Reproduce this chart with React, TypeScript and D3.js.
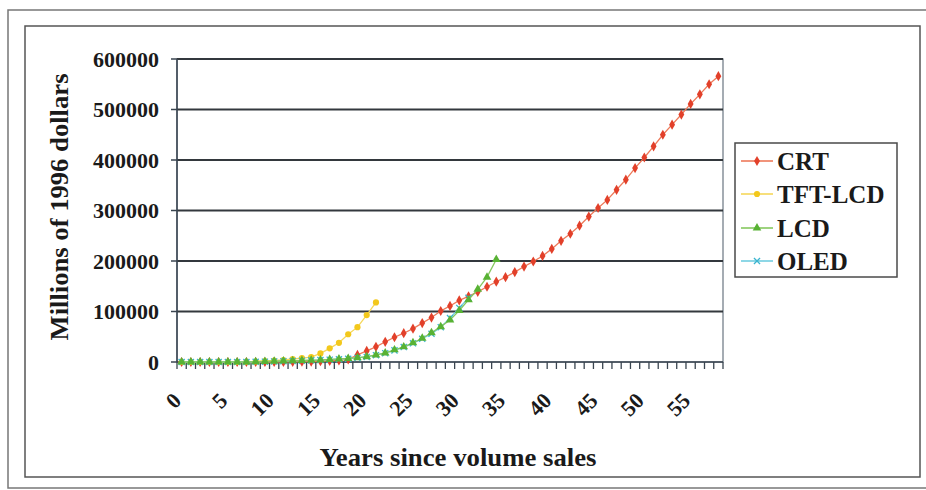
import React, { useEffect, useRef } from "react";
import * as d3 from "d3";

// Years since volume sales (category axis)
const years: number[] = Array.from({ length: 59 }, (_, i) => i);
const xTickLabels: number[] = [0, 5, 10, 15, 20, 25, 30, 35, 40, 45, 50, 55];
const yTicks: number[] = [0, 100000, 200000, 300000, 400000, 500000, 600000];

// Millions of 1996 dollars, one value per year
const crt: number[] = [
  0, 0, 0, 0, 0, 0, 0, 0, 0, 0, 0, 200, 400, 600, 900, 1500, 2200, 3200, 5000,
  14000, 22000, 30000, 40000, 49000, 57000, 66000, 77000, 88000, 101000, 111000,
  122000, 130000, 139000, 149000, 159000, 168000, 178000, 189000, 199000, 210000,
  224000, 240000, 254000, 270000, 288000, 305000, 321000, 341000, 361000, 384000,
  405000, 427000, 450000, 470000, 490000, 511000, 530000, 550000, 566000,
];
const tftLcd: number[] = [
  0, 0, 0, 0, 0, 0, 0, 500, 1000, 2000, 3000, 4000, 6000, 7500, 9500, 17000,
  27000, 38000, 55000, 69000, 93000, 118000,
];
const lcd: number[] = [
  0, 0, 0, 0, 0, 0, 0, 0, 500, 1000, 1500, 2000, 2500, 3000, 3500, 4000, 5000,
  6000, 7000, 8500, 10500, 14000, 18000, 24000, 30000, 38000, 47000, 58000, 70000,
  83000, 102000, 123000, 144000, 168000, 203000,
];
const oled: number[] = [
  0, 0, 0, 0, 0, 0, 0, 0, 300, 700, 1200, 1700, 2200, 2700, 3200, 3800, 4600,
  5500, 6500, 8000, 10000, 13500, 17500, 23000, 29500, 37000, 46000, 56000, 69000,
  87000, 107000, 127000,
];

const seriesNames = ["CRT", "TFT-LCD", "LCD", "OLED"];
const seriesValues = [crt, tftLcd, lcd, oled];
const markerColors = ["#e2402a", "#f3c81c", "#58b234", "#3ab4cf"];
const lineColors = ["#ee7a5a", "#f6d85a", "#86c860", "#72cde0"];
const symbols = [d3.symbolDiamond, d3.symbolCircle, d3.symbolTriangle, d3.symbolX];
const symbolSizes = [30, 30, 32, 26];
// paint order of the series (OLED sits beneath LCD)
const drawOrder = [0, 1, 3, 2];

const W = 926;
const H = 490;
const plot = { left: 177, right: 723, top: 59, bottom: 362 };
const FONT = "'Liberation Serif', 'Times New Roman', serif";

export default function App() {
  const ref = useRef<SVGSVGElement | null>(null);

  useEffect(() => {
    const svg = d3.select(ref.current);
    svg.selectAll("*").remove();

    const x = d3
      .scaleBand<number>()
      .domain(years)
      .range([plot.left, plot.right])
      .padding(0);
    const cx = (i: number) => (x(i) as number) + x.bandwidth() / 2;
    const y = d3.scaleLinear().domain([0, 600000]).range([plot.bottom, plot.top]);

    // outer and inner frames
    svg
      .append("rect")
      .attr("x", 8)
      .attr("y", 10)
      .attr("width", W + 10)
      .attr("height", 478)
      .attr("fill", "#ffffff")
      .attr("stroke", "#777")
      .attr("stroke-width", 1.5);
    svg
      .append("rect")
      .attr("x", 25)
      .attr("y", 26)
      .attr("width", 895)
      .attr("height", 451)
      .attr("fill", "#ffffff")
      .attr("stroke", "#555")
      .attr("stroke-width", 1.5);

    // plot area
    svg
      .append("rect")
      .attr("x", plot.left)
      .attr("y", plot.top)
      .attr("width", plot.right - plot.left)
      .attr("height", plot.bottom - plot.top)
      .attr("fill", "#ffffff")
      .attr("stroke", "#6a7580")
      .attr("stroke-width", 1.2);

    // horizontal gridlines
    svg
      .append("g")
      .selectAll("line")
      .data(yTicks.filter((t) => t > 0))
      .join("line")
      .attr("x1", plot.left)
      .attr("x2", plot.right)
      .attr("y1", (d) => y(d))
      .attr("y2", (d) => y(d))
      .attr("stroke", "#33383d")
      .attr("stroke-width", 1.8);

    // y axis
    const yAxis = svg.append("g");
    yAxis
      .append("line")
      .attr("x1", plot.left)
      .attr("x2", plot.left)
      .attr("y1", plot.top)
      .attr("y2", plot.bottom)
      .attr("stroke", "#3a4550")
      .attr("stroke-width", 1.5);
    yAxis
      .selectAll("line.tick")
      .data(yTicks)
      .join("line")
      .attr("class", "tick")
      .attr("x1", plot.left - 6)
      .attr("x2", plot.left)
      .attr("y1", (d) => y(d))
      .attr("y2", (d) => y(d))
      .attr("stroke", "#3a4550")
      .attr("stroke-width", 1.5);
    yAxis
      .selectAll("text")
      .data(yTicks)
      .join("text")
      .attr("x", 159)
      .attr("y", (d) => y(d))
      .attr("dy", "0.35em")
      .attr("text-anchor", "end")
      .attr("font-family", FONT)
      .attr("font-weight", "bold")
      .attr("font-size", 22)
      .attr("fill", "#1a1a1a")
      .text((d) => String(d));

    // x axis
    const xAxis = svg.append("g");
    xAxis
      .append("line")
      .attr("x1", plot.left)
      .attr("x2", plot.right)
      .attr("y1", plot.bottom)
      .attr("y2", plot.bottom)
      .attr("stroke", "#3a4550")
      .attr("stroke-width", 1.5);
    const boundaries = years.map((i) => x(i) as number).concat([plot.right]);
    xAxis
      .selectAll("line.tick")
      .data(boundaries)
      .join("line")
      .attr("class", "tick")
      .attr("x1", (d) => d)
      .attr("x2", (d) => d)
      .attr("y1", plot.bottom)
      .attr("y2", plot.bottom + 7)
      .attr("stroke", "#3a4550")
      .attr("stroke-width", 1.3);
    xAxis
      .selectAll("text")
      .data(xTickLabels)
      .join("text")
      .attr("transform", (d) => `translate(${cx(d) + 1},${plot.bottom + 40}) rotate(-45)`)
      .attr("text-anchor", "end")
      .attr("font-family", FONT)
      .attr("font-weight", "bold")
      .attr("font-size", 22)
      .attr("fill", "#1a1a1a")
      .text((d) => String(d));

    // axis titles
    svg
      .append("text")
      .attr("x", 458)
      .attr("y", 466)
      .attr("text-anchor", "middle")
      .attr("font-family", FONT)
      .attr("font-weight", "bold")
      .attr("font-size", 25)
      .attr("textLength", 277)
      .attr("lengthAdjust", "spacingAndGlyphs")
      .attr("fill", "#1a1a1a")
      .text("Years since volume sales");
    svg
      .append("text")
      .attr("transform", `translate(68,207) rotate(-90)`)
      .attr("text-anchor", "middle")
      .attr("font-family", FONT)
      .attr("font-weight", "bold")
      .attr("font-size", 25)
      .attr("textLength", 267)
      .attr("lengthAdjust", "spacingAndGlyphs")
      .attr("fill", "#1a1a1a")
      .text("Millions of 1996 dollars");

    // series
    const line = d3
      .line<number>()
      .x((_, i) => cx(i))
      .y((d) => y(d));
    drawOrder.forEach((s) => {
      const vals = seriesValues[s];
      const g = svg.append("g");
      g.append("path")
        .attr("d", line(vals) as string)
        .attr("fill", "none")
        .attr("stroke", lineColors[s])
        .attr("stroke-width", 1.3);
      const sym = d3.symbol().type(symbols[s]).size(symbolSizes[s]);
      g.selectAll("path.m")
        .data(vals)
        .join("path")
        .attr("class", "m")
        .attr("transform", (d, i) => `translate(${cx(i)},${y(d)})`)
        .attr("d", sym() as string)
        .attr("fill", s === 3 ? "none" : markerColors[s])
        .attr("stroke", s === 3 ? markerColors[s] : "none")
        .attr("stroke-width", 1.3);
    });

    // legend
    const legend = svg.append("g");
    legend
      .append("rect")
      .attr("x", 735)
      .attr("y", 143)
      .attr("width", 162)
      .attr("height", 134)
      .attr("fill", "#ffffff")
      .attr("stroke", "#4a4a4a")
      .attr("stroke-width", 1.5);
    const rowY = [161, 194, 228, 261];
    seriesNames.forEach((name, s) => {
      const ry = rowY[s];
      legend
        .append("line")
        .attr("x1", 741)
        .attr("x2", 773)
        .attr("y1", ry)
        .attr("y2", ry)
        .attr("stroke", lineColors[s])
        .attr("stroke-width", 1.6);
      legend
        .append("path")
        .attr("transform", `translate(757,${ry})`)
        .attr("d", d3.symbol().type(symbols[s]).size(symbolSizes[s])() as string)
        .attr("fill", s === 3 ? "none" : markerColors[s])
        .attr("stroke", s === 3 ? markerColors[s] : "none")
        .attr("stroke-width", 1.3);
      legend
        .append("text")
        .attr("x", 777)
        .attr("y", ry)
        .attr("dy", "0.35em")
        .attr("font-family", FONT)
        .attr("font-weight", "bold")
        .attr("font-size", 25)
        .attr("fill", "#1a1a1a")
        .text(name);
    });
  }, []);

  return (
    <svg
      ref={ref}
      width={W}
      height={H}
      style={{ position: "absolute", left: 0, top: 0, display: "block", background: "#ffffff" }}
    />
  );
}
